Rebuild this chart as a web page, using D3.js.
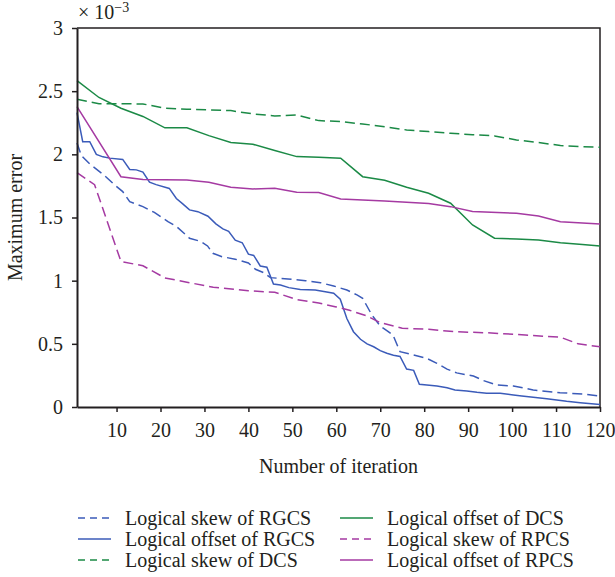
<!DOCTYPE html>
<html>
<head>
<meta charset="utf-8">
<script src="https://cdn.jsdelivr.net/npm/d3@7"></script>
<style>
  body { margin: 0; background: #fff; }
  text { font-family: "Liberation Serif", "DejaVu Serif", serif; fill: #231f20; }
</style>
</head>
<body>
<div id="chart"></div>
<script>
// values are in units of 1e-3, [iteration, value]
var skewRGCS = [[1,2.09],[2,1.99],[4,1.92],[7,1.84],[9.5,1.76],[11.4,1.705],[13,1.625],[16,1.586],[18.6,1.54],[21.7,1.467],[23.6,1.43],[26.6,1.336],[29.2,1.31],[30.7,1.275],[31.9,1.217],[34,1.19],[37,1.17],[40,1.14],[41.6,1.09],[43.5,1.063],[45,1.024],[49,1.013],[53,1.0],[56.4,0.984],[59.4,0.958],[62.4,0.926],[64.7,0.887],[66,0.86],[68.1,0.728],[70,0.641],[71.5,0.604],[72.9,0.57],[74.5,0.438],[77.6,0.412],[80.6,0.385],[82.9,0.346],[85.2,0.30],[87.4,0.27],[91.2,0.245],[93.5,0.209],[96.5,0.174],[100.3,0.166],[104.8,0.135],[110.9,0.113],[116.2,0.103],[120,0.087]];
var offsetRGCS = [[1,2.33],[2.3,2.10],[3.9,2.10],[5.4,2.00],[6.9,1.98],[8.4,1.97],[11.4,1.96],[13,1.88],[14.5,1.877],[16,1.86],[17.5,1.78],[19,1.76],[22,1.73],[23.6,1.65],[25,1.61],[26.6,1.56],[28.5,1.546],[30.8,1.51],[32.6,1.45],[34.2,1.41],[35.5,1.39],[37,1.32],[38.6,1.30],[40,1.21],[41.2,1.20],[42.7,1.116],[44.2,1.106],[45.7,0.974],[47.3,0.966],[49.2,0.945],[51.8,0.93],[55.2,0.926],[57.5,0.913],[59.4,0.90],[60.9,0.853],[62.4,0.70],[63.9,0.596],[65.5,0.536],[67,0.50],[68.5,0.477],[70,0.446],[71.5,0.425],[73,0.41],[74.5,0.40],[76,0.30],[77.6,0.29],[78.9,0.18],[80.6,0.174],[82.9,0.166],[85.2,0.153],[87,0.135],[89.7,0.127],[92,0.116],[94.2,0.108],[97.3,0.108],[100.3,0.095],[102.2,0.087],[104.8,0.077],[107.9,0.066],[112.4,0.045],[115.5,0.034],[120,0.02]];
var skewDCS = [[1,2.436],[6,2.40],[11,2.40],[16,2.399],[21,2.365],[26,2.357],[31,2.352],[36,2.346],[41,2.32],[46,2.304],[51,2.312],[56,2.267],[61,2.259],[66,2.24],[71,2.219],[76,2.193],[81,2.18],[86,2.167],[91,2.155],[96,2.146],[101,2.114],[106,2.093],[111,2.07],[116,2.06],[120,2.056]];
var offsetDCS = [[1,2.584],[6,2.45],[11,2.365],[16,2.30],[21,2.21],[26,2.21],[31,2.148],[36,2.093],[41,2.08],[46,2.03],[51,1.982],[56,1.977],[61,1.969],[66,1.823],[71,1.795],[76,1.739],[81,1.692],[86,1.613],[91,1.441],[96,1.336],[101,1.33],[106,1.322],[111,1.30],[116,1.287],[120,1.275]];
var skewRPCS = [[1,1.855],[5,1.76],[11,1.152],[16,1.118],[21,1.022],[26,0.988],[32,0.948],[40,0.92],[46,0.908],[51,0.85],[56,0.823],[60,0.792],[63,0.766],[67,0.72],[70,0.668],[75,0.623],[81,0.615],[87,0.596],[94,0.588],[103,0.57],[111,0.552],[115,0.50],[120,0.477]];
var offsetRPCS = [[1,2.378],[11,1.823],[16,1.80],[26,1.797],[31,1.779],[36,1.74],[41,1.726],[46,1.731],[51,1.70],[56,1.697],[61,1.647],[71,1.631],[81,1.611],[86,1.586],[91,1.548],[101,1.533],[106,1.512],[111,1.467],[115,1.459],[120,1.449]];

var xTicks = [10,20,30,40,50,60,70,80,90,100,110,120];
var yTicks = [0,0.5,1,1.5,2,2.5,3];

var blue = '#3b5bb9', green = '#1b8a46', magenta = '#a53aa2';

var series = [
	{name: 'Logical skew of RGCS', data: skewRGCS, color: blue, dash: true},
	{name: 'Logical offset of RGCS', data: offsetRGCS, color: blue, dash: false},
	{name: 'Logical skew of DCS', data: skewDCS, color: green, dash: true},
	{name: 'Logical offset of DCS', data: offsetDCS, color: green, dash: false},
	{name: 'Logical skew of RPCS', data: skewRPCS, color: magenta, dash: true},
	{name: 'Logical offset of RPCS', data: offsetRPCS, color: magenta, dash: false}
];

var W = 615, H = 577;
var m = {left: 77, right: 600, top: 28, bottom: 407};

var svg = d3.select('#chart').append('svg')
	.attr('width', W)
	.attr('height', H);

var x = d3.scaleLinear().domain([1, 120]).range([m.left, m.right]);
var y = d3.scaleLinear().domain([0, 3]).range([m.bottom, m.top]);

// frame top/right
svg.append('path')
	.attr('d', 'M' + m.left + ',' + m.top + 'H' + m.right + 'V' + m.bottom)
	.attr('fill', 'none')
	.attr('stroke', '#231f20')
	.attr('stroke-width', 1.5);

var line = d3.line()
	.x(function(d) { return x(d[0]); })
	.y(function(d) { return y(d[1]); });

svg.append('g').selectAll('path')
	.data(series)
	.enter().append('path')
	.attr('d', function(d) { return line(d.data); })
	.attr('fill', 'none')
	.attr('stroke', function(d) { return d.color; })
	.attr('stroke-width', 1.5)
	.attr('stroke-dasharray', function(d) { return d.dash ? '10,5' : null; });

var xAxis = svg.append('g')
	.attr('transform', 'translate(0,' + m.bottom + ')')
	.call(d3.axisBottom(x).tickValues(xTicks).tickSize(5).tickPadding(11).tickSizeOuter(0));

var yAxis = svg.append('g')
	.attr('transform', 'translate(' + m.left + ',0)')
	.call(d3.axisLeft(y).tickValues(yTicks).tickSize(5).tickPadding(9).tickSizeOuter(0)
		.tickFormat(function(d) { return d; }));

[xAxis, yAxis].forEach(function(a) {
	a.select('.domain').attr('stroke', '#231f20').attr('stroke-width', 2);
	a.selectAll('.tick line').attr('stroke', '#231f20').attr('stroke-width', 1.5);
	a.selectAll('.tick text').attr('font-size', 20).attr('fill', '#231f20')
		.style('font-family', '"Liberation Serif", serif');
});

// exponent label
var expo = svg.append('text')
	.attr('x', 78)
	.attr('y', 19)
	.attr('font-size', 20);
expo.append('tspan').text('\u00d7 10');
expo.append('tspan').attr('dy', -7).attr('font-size', 14).text('\u22123');

svg.append('text')
	.attr('transform', 'translate(22,' + ((m.top + m.bottom) / 2) + ') rotate(-90)')
	.attr('text-anchor', 'middle')
	.attr('font-size', 20)
	.text('Maximum error');

svg.append('text')
	.attr('x', (m.left + m.right) / 2)
	.attr('y', 473)
	.attr('text-anchor', 'middle')
	.attr('font-size', 20)
	.text('Number of iteration');

// legend, two columns
var legend = svg.append('g').selectAll('g')
	.data(series)
	.enter().append('g')
	.attr('transform', function(d, i) {
		var col = Math.floor(i / 3), row = i % 3;
		return 'translate(' + (col ? 340 : 78) + ',' + (518 + row * 21) + ')';
	});

legend.append('line')
	.attr('x1', 0).attr('x2', 33)
	.attr('stroke', function(d) { return d.color; })
	.attr('stroke-width', 1.5)
	.attr('stroke-dasharray', function(d) { return d.dash ? '7,5' : null; });

legend.append('text')
	.attr('x', 47)
	.attr('dy', '0.33em')
	.attr('font-size', 20)
	.text(function(d) { return d.name; });
</script>
</body>
</html>
